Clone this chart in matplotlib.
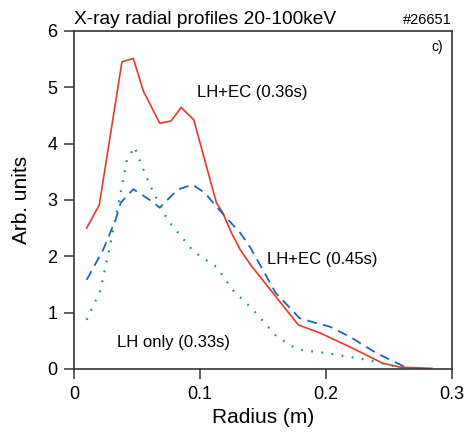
import matplotlib.pyplot as plt
import numpy as np

plt.rcParams['font.family'] = ['Liberation Sans', 'DejaVu Sans']

# LH+EC (0.36s) - red solid
r_red = [0.010, 0.020, 0.038, 0.047, 0.055, 0.068, 0.077, 0.085, 0.095, 0.105,
         0.113, 0.118, 0.125, 0.132, 0.140, 0.156, 0.178, 0.195, 0.219, 0.245,
         0.259, 0.284]
y_red = [2.50, 2.91, 5.45, 5.51, 4.93, 4.36, 4.40, 4.64, 4.42, 3.60,
         2.95, 2.77, 2.41, 2.11, 1.85, 1.40, 0.78, 0.64, 0.39, 0.10,
         0.03, 0.01]

# LH+EC (0.45s) - blue dashed
r_blue = [0.010, 0.023, 0.033, 0.037, 0.047, 0.062, 0.068, 0.082, 0.094, 0.104,
          0.113, 0.121, 0.132, 0.140, 0.160, 0.179, 0.191, 0.203, 0.219, 0.240, 0.264]
y_blue = [1.58, 2.11, 2.65, 2.95, 3.19, 2.97, 2.86, 3.18, 3.27, 3.12,
          2.88, 2.68, 2.41, 2.15, 1.35, 0.90, 0.82, 0.75, 0.57, 0.28, 0.02]

# LH only (0.33s) - green dotted
r_green = [0.010, 0.021, 0.029, 0.037, 0.042, 0.048, 0.054, 0.060, 0.068, 0.074,
           0.095, 0.113, 0.126, 0.142, 0.161, 0.174, 0.179, 0.200, 0.233, 0.256]
y_green = [0.87, 1.40, 2.24, 3.13, 3.71, 3.94, 3.59, 3.27, 2.91, 2.65,
           2.08, 1.81, 1.40, 1.05, 0.57, 0.39, 0.34, 0.28, 0.16, 0.04]

fig = plt.figure(figsize=(4.66, 4.34), dpi=100)
ax = fig.add_axes([0.159, 0.150, 0.811, 0.779])

ax.plot(r_red, y_red, color='#e3392b', lw=1.2)
ax.plot(r_blue, y_blue, color='#1f64b4', lw=1.3, linestyle=(0, (5.5, 3.5)))
ax.plot(r_green, y_green, color='#16996a', lw=1.6, linestyle=(0, (0.8, 3.8)))

ax.text(0.0976, 4.9, 'LH+EC (0.36s)', fontsize=12, va='center')
ax.text(0.153, 1.94, 'LH+EC (0.45s)', fontsize=12, va='center')
ax.text(0.034, 0.46, 'LH only (0.33s)', fontsize=12, va='center')
ax.text(0.293, 5.72, 'c)', fontsize=10, ha='right', va='center')

ax.set_xlim(0, 0.3)
ax.set_ylim(0, 6)
ax.set_xticks([0, 0.1, 0.2, 0.3])
ax.set_xticklabels(['0', '0.1', '0.2', '0.3'])
ax.set_yticks(range(7))
ax.tick_params(direction='out', length=7, width=1.1, labelsize=13,
               color='#333333', pad=5)
for s in ax.spines.values():
    s.set_linewidth(1.2)
    s.set_color('#333333')

ax.set_xlabel('Radius (m)', fontsize=15)
ax.set_ylabel('Arb. units', fontsize=15, labelpad=12)
ax.set_title('X-ray radial profiles 20-100keV', loc='left', fontsize=13.8, pad=5)
ax.set_title('#26651', loc='right', fontsize=10.5, pad=5)

fig.savefig('out.png', dpi=100)
